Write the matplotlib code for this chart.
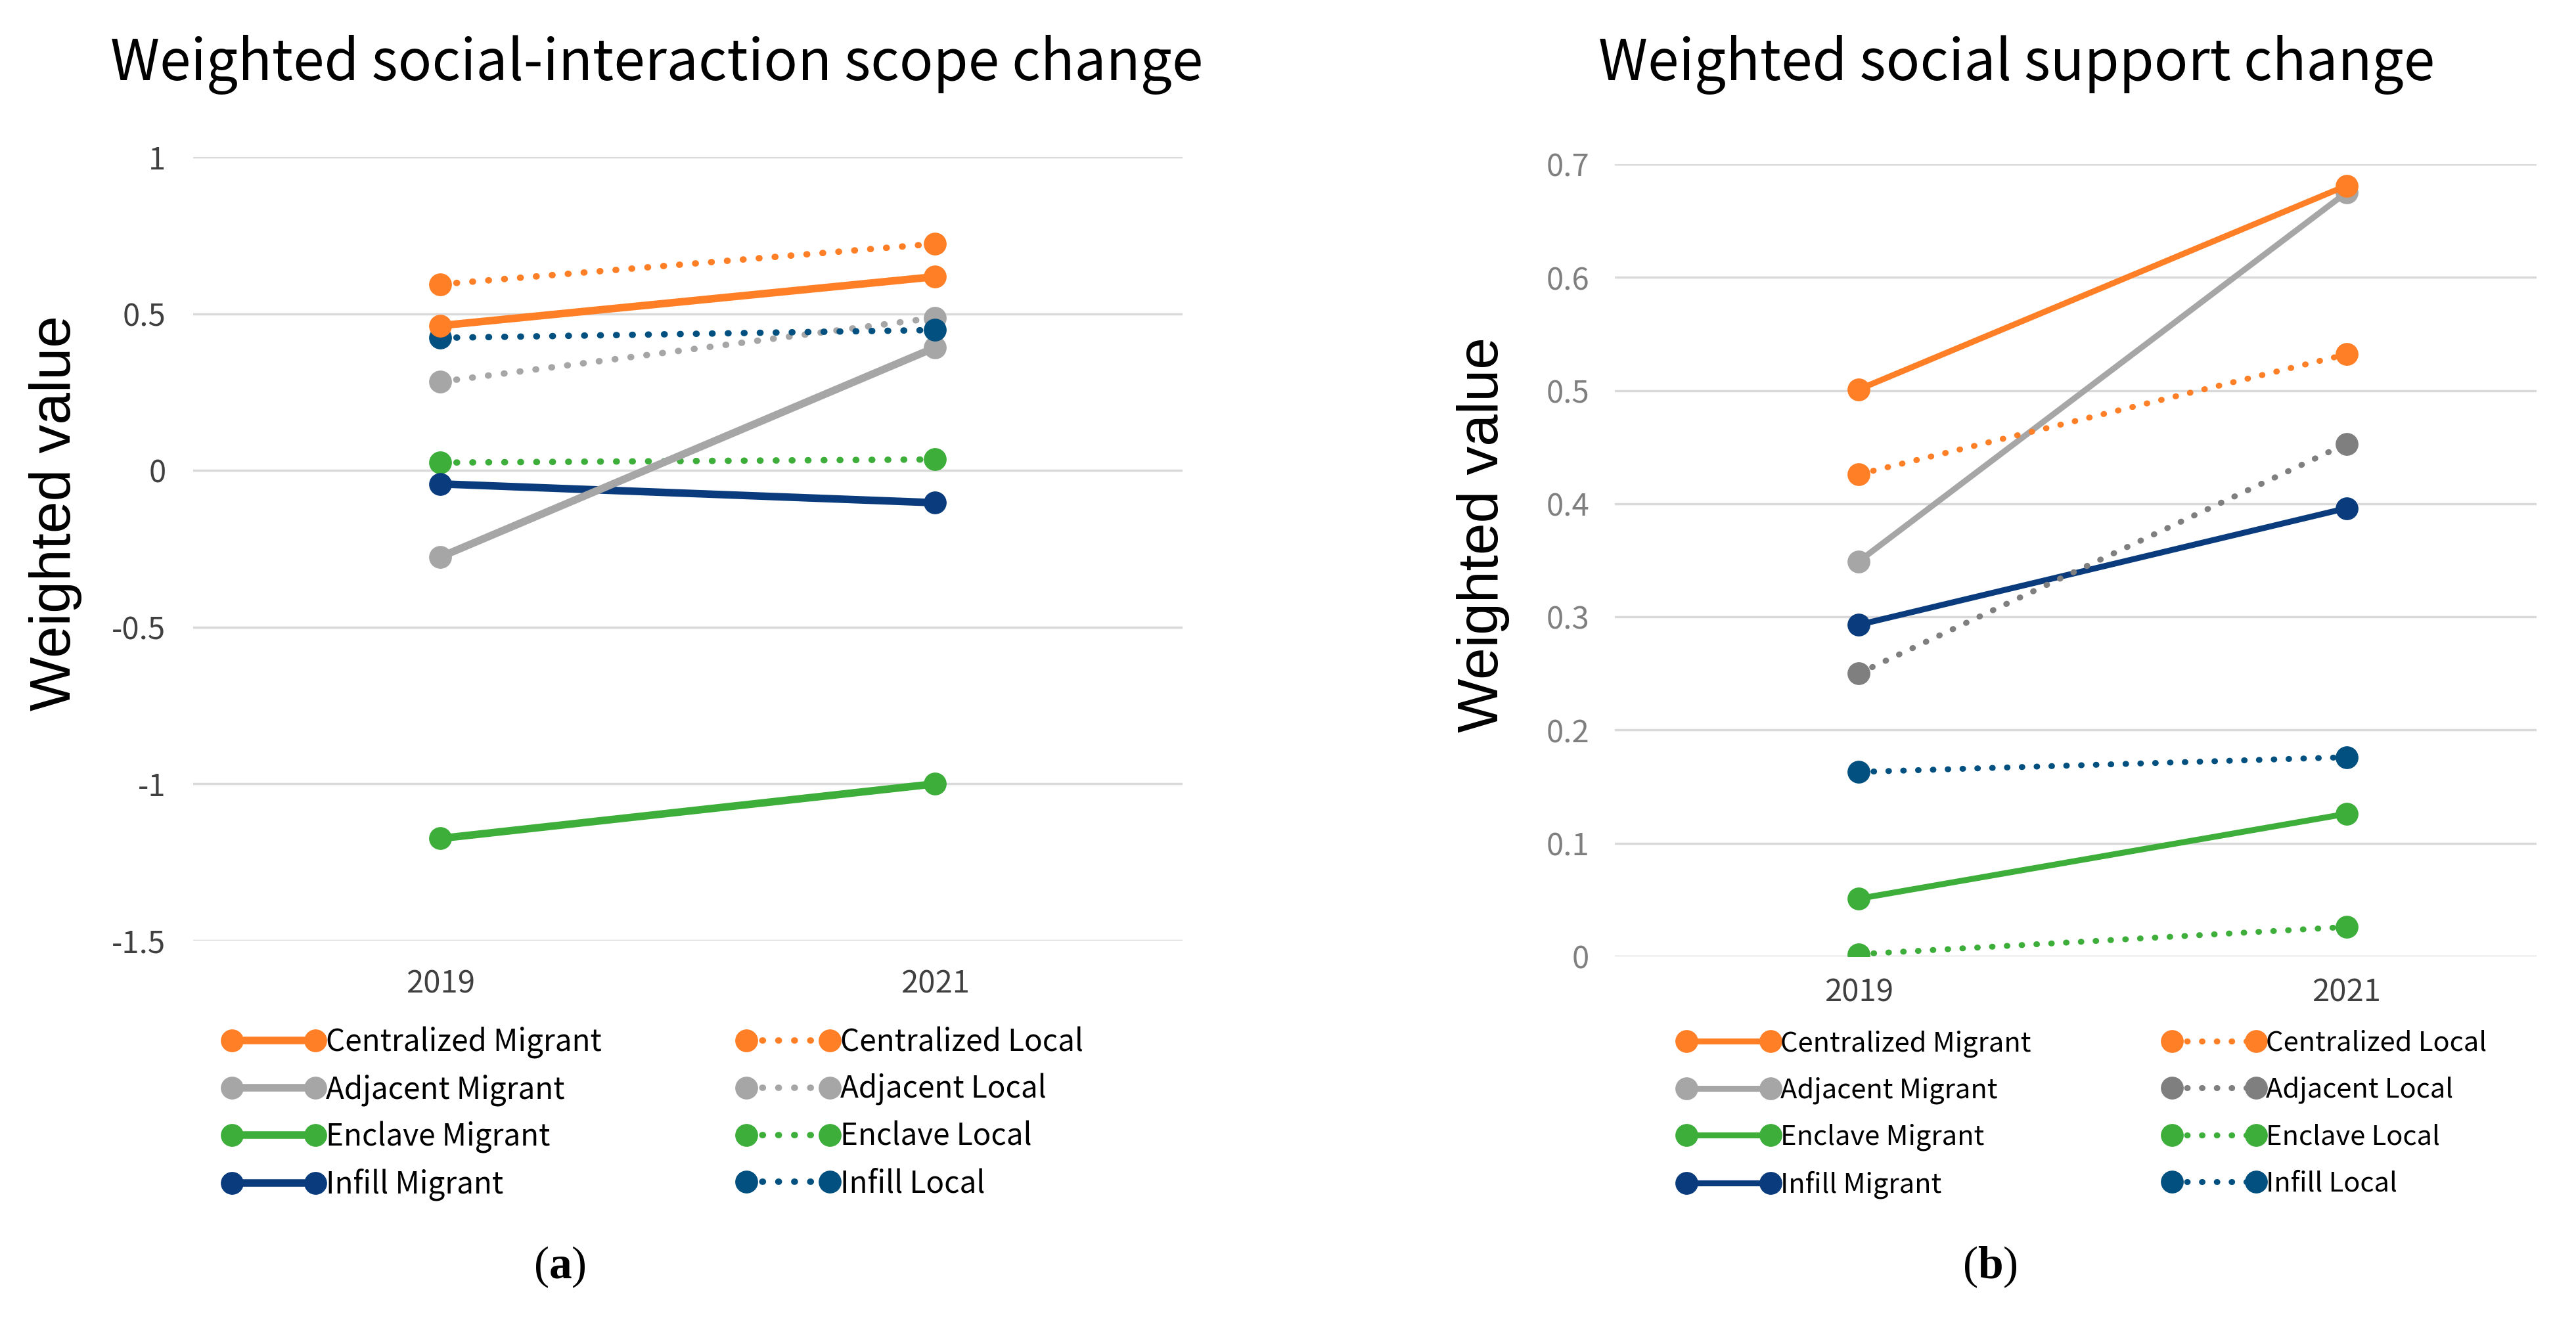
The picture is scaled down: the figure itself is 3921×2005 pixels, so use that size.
import matplotlib
matplotlib.use("Agg")
import matplotlib.pyplot as plt
from matplotlib.lines import Line2D

plt.rcParams['font.family'] = ['Noto Sans CJK SC', 'DejaVu Sans']
plt.rcParams['mathtext.fontset'] = 'custom'
plt.rcParams['mathtext.rm'] = 'Liberation Serif'
plt.rcParams['mathtext.bf'] = 'Liberation Serif:bold'

# data
years = ['2019', '2021']
labels = ['Centralized Migrant', 'Adjacent Migrant', 'Enclave Migrant', 'Infill Migrant',
          'Centralized Local', 'Adjacent Local', 'Enclave Local', 'Infill Local']

scope = {
    'Centralized Migrant': [0.462, 0.618],
    'Adjacent Migrant': [-0.276, 0.392],
    'Enclave Migrant': [-1.174, -1.0],
    'Infill Migrant': [-0.043, -0.103],
    'Centralized Local': [0.594, 0.723],
    'Adjacent Local': [0.283, 0.487],
    'Enclave Local': [0.025, 0.035],
    'Infill Local': [0.423, 0.448],
}
support = {
    'Centralized Migrant': [0.501, 0.681],
    'Adjacent Migrant': [0.349, 0.675],
    'Enclave Migrant': [0.051, 0.126],
    'Infill Migrant': [0.293, 0.396],
    'Centralized Local': [0.426, 0.532],
    'Adjacent Local': [0.250, 0.453],
    'Enclave Local': [0.002, 0.026],
    'Infill Local': [0.163, 0.176],
}

orange = '#FF7F27'
gray = '#A6A6A6'
dgray = '#7F7F7F'
green = '#3DAE3A'
navy = '#0A3C7D'
blue = '#02507F'

colors_a = {'Centralized Migrant': orange, 'Adjacent Migrant': gray, 'Enclave Migrant': green,
            'Infill Migrant': navy, 'Centralized Local': orange, 'Adjacent Local': gray,
            'Enclave Local': green, 'Infill Local': blue}
colors_b = dict(colors_a)
colors_b['Adjacent Local'] = dgray

# draw order (back to front)
order = ['Enclave Migrant', 'Enclave Local', 'Infill Migrant', 'Adjacent Local',
         'Adjacent Migrant', 'Infill Local', 'Centralized Local', 'Centralized Migrant']

fig = plt.figure(figsize=(39.21, 20.05), dpi=100)
ax1 = fig.add_axes([0.075, 0.2858, 0.384, 0.595])
ax2 = fig.add_axes([0.6269, 0.2738, 0.3578, 0.6015])


def draw(ax, data, colors, lw, dlw, ms):
    x = list(range(len(years)))
    for name in order:
        if 'Local' in name:
            ax.plot(x, data[name], color=colors[name], lw=dlw, marker='o', ms=ms,
                    dashes=(0.1, 2.4), dash_capstyle='round', zorder=3)
        else:
            ax.plot(x, data[name], color=colors[name], lw=lw, marker='o', ms=ms,
                    solid_capstyle='round', zorder=3)
    ax.set_xticks(x)
    ax.set_xticklabels(years)
    ax.set_xlim(-0.5, 1.5)
    ax.grid(axis='y', color='#D9D9D9', lw=2.5)
    ax.set_axisbelow(True)
    for s in ax.spines.values():
        s.set_visible(False)
    ax.tick_params(length=0)
    ax.set_ylabel('Weighted value', fontsize=63, family='Liberation Sans')


draw(ax1, scope, colors_a, 8.3, 7, 24)
ax1.set_ylim(-1.5, 1)
ax1.set_yticks([-1.5, -1, -0.5, 0, 0.5, 1])
ax1.set_yticklabels(['-1.5', '-1', '-0.5', '0', '0.5', '1'])
ax1.tick_params(axis='y', labelsize=34, labelcolor='#404040', pad=30)
ax1.tick_params(axis='x', labelsize=34, labelcolor='#404040', pad=30)
ax1.yaxis.set_label_coords(-0.112, 0.546)

draw(ax2, support, colors_b, 6.5, 6.5, 24)
ax2.set_ylim(0, 0.7)
ax2.set_xlim(-0.5, 1.39)
ax2.set_yticks([0, 0.1, 0.2, 0.3, 0.4, 0.5, 0.6, 0.7])
ax2.set_yticklabels(['0', '0.1', '0.2', '0.3', '0.4', '0.5', '0.6', '0.7'])
ax2.tick_params(axis='y', labelsize=34, labelcolor='#7F7F7F', pad=28)
ax2.tick_params(axis='x', labelsize=34, labelcolor='#404040', pad=22)
ax2.yaxis.set_label_coords(-0.114, 0.532)

fig.text(1000 / 3921, 1 - 98 / 2005, 'Weighted social-interaction scope change',
         fontsize=61.5, ha='center', va='center')
fig.text(3070 / 3921, 1 - 98 / 2005, 'Weighted social support change',
         fontsize=61.5, ha='center', va='center')


def legend(colors, lw, dlw, x0, y0, fs, hl, cs, ls):
    handles = []
    for name in labels:
        if 'Local' in name:
            h = Line2D([], [], color=colors[name], lw=dlw, marker='o', ms=24,
                       dashes=(0.1, 2.4), dash_capstyle='round')
        else:
            h = Line2D([], [], color=colors[name], lw=lw, marker='o', ms=24)
        handles.append(h)
    fig.legend(handles, labels, loc='upper left', bbox_to_anchor=(x0, 1 - y0 / 2005),
               ncol=2, numpoints=2, frameon=False, fontsize=fs, handlelength=hl,
               handletextpad=0.05, columnspacing=cs, labelspacing=ls,
               borderpad=0, borderaxespad=0)


legend(colors_a, 8.3, 7, 339 / 3921, 1563, 33, 3.38, 4.5, 0.5)
legend(colors_b, 6.5, 6.5, 2554 / 3921, 1568, 30, 3.69, 4.84, 0.72)

fig.text(852 / 3921, 1 - 1927 / 2005, r'$\mathrm{(}\mathbf{a}\mathrm{)}$', fontsize=50,
         ha='center', va='center')
fig.text(3029 / 3921, 1 - 1927 / 2005, r'$\mathrm{(}\mathbf{b}\mathrm{)}$', fontsize=50,
         ha='center', va='center')

fig.savefig('out.png', dpi=100)
